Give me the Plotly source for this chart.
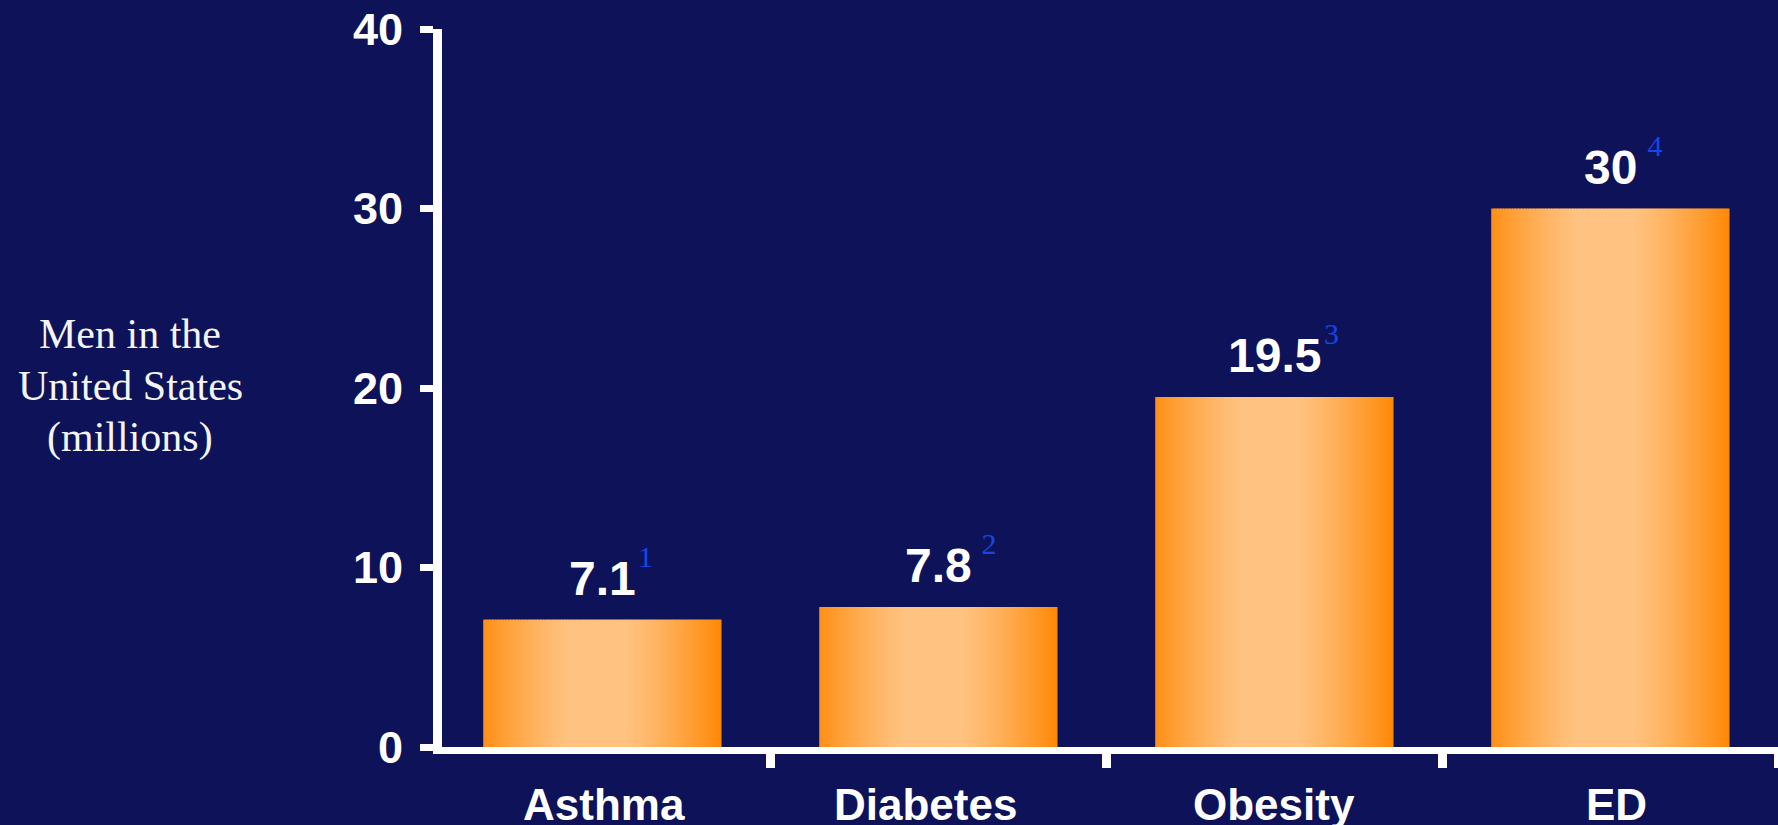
import plotly.graph_objects as go

# ---- data ----
categories = ["Asthma", "Diabetes", "Obesity", "ED"]
values = [7.1, 7.8, 19.5, 30]
value_labels = ["7.1", "7.8", "19.5", "30"]
notes = ["1", "\u00a02", "3", "\u00a04"]
y_ticks = [0, 10, 20, 30, 40]
y_title_lines = ["Men in the", "United States", "(millions)"]

# ---- style ----
BG = "#0E1258"
WHITE = "#FFFFFF"
BLUE = "#1646E4"
SANS = "Liberation Sans, Arial, sans-serif"
SERIF = "Liberation Serif, Times New Roman, serif"
BAR_W = 0.707
N_STRIPS = 79
LIGHT = (255, 194, 128)
ORANGE = (255, 137, 8)
LABEL_DX = [2, -13, 0, 6]          # small horizontal nudges of category labels (px)
ML = 442                           # left margin (px)
X0 = -0.5 + (ML - 434) / 336       # axis start so the y line sits on the first boundary


def strip_color(t):
    d = abs(t - 0.48) / 0.52
    w = min(max((d - 0.22) / 0.78, 0.0), 1.0) ** 1.25
    c = [round(LIGHT[k] * (1 - w) + ORANGE[k] * w) for k in range(3)]
    return f"rgb({c[0]},{c[1]},{c[2]})"


xpos = list(range(len(categories)))
fig = go.Figure()
step = BAR_W / N_STRIPS
for s in range(N_STRIPS):
    t = (s + 0.5) / N_STRIPS
    fig.add_trace(go.Bar(
        x=xpos, y=values,
        width=step * 1.25,
        offset=-BAR_W / 2 + s * step,
        marker=dict(color=strip_color(t), line=dict(width=0)),
        hoverinfo="skip", showlegend=False,
    ))

CW = {".": 0.278}   # Arial Bold advance widths (em); digits 0.556
LABEL_FS = 48
for i, (v, lab, note) in enumerate(zip(values, value_labels, notes)):
    fig.add_annotation(x=xpos[i], y=v, xref="x", yref="y", text=f"<b>{lab}</b>",
                       showarrow=False, xanchor="center", yanchor="bottom", yshift=13,
                       font=dict(family=SANS, size=LABEL_FS, color=WHITE))
    half = sum(CW.get(ch, 0.556) for ch in lab) * LABEL_FS / 2
    fig.add_annotation(x=xpos[i], y=v, xref="x", yref="y", text=note,
                       showarrow=False, xanchor="left", yanchor="bottom",
                       xshift=half + 1, yshift=45,
                       font=dict(family=SERIF, size=30, color=BLUE))
    fig.add_annotation(x=xpos[i], y=0, xref="x", yref="y", text=f"<b>{categories[i]}</b>",
                       showarrow=False, xanchor="center", yanchor="top",
                       xshift=LABEL_DX[i], yshift=-31,
                       font=dict(family=SANS, size=44, color=WHITE))

# y-axis title, three centred lines
LINE_GAP = 51.5
for k, line in enumerate(y_title_lines):
    fig.add_annotation(x=(130 - ML) / (1778 - ML), y=0.503, xref="paper", yref="paper",
                       text=line, showarrow=False, xanchor="center", yanchor="middle",
                       yshift=(1 - k) * LINE_GAP,
                       font=dict(family=SERIF, size=42, color="#F4F4F4"))

# short downward extension of the y-axis line below the x axis
fig.add_shape(type="line", xref="paper", yref="y", xsizemode="pixel", ysizemode="pixel",
              xanchor=0, yanchor=0, x0=-4.5, x1=-4.5, y0=0, y1=-21,
              line=dict(color=WHITE, width=9))

fig.update_layout(
    width=1778, height=825,
    paper_bgcolor=BG, plot_bgcolor=BG,
    margin=dict(l=ML, r=0, t=29, b=78),
    barmode="overlay",
    xaxis=dict(range=[X0, 3.5], showgrid=False, zeroline=False,
               showline=True, linecolor=WHITE, linewidth=7,
               tickmode="array", tickvals=[0.5, 1.5, 2.5, 3.5],
               ticktext=["", "", "", ""],
               ticks="outside", ticklen=14, tickwidth=9, tickcolor=WHITE),
    yaxis=dict(range=[0, 40], showgrid=False, zeroline=False,
               showline=True, linecolor=WHITE, linewidth=9,
               tickmode="array", tickvals=y_ticks,
               ticktext=[f"<b>{v}</b>" for v in y_ticks],
               ticks="outside", ticklen=13, tickwidth=7, tickcolor=WHITE,
               ticklabelstandoff=8,
               tickfont=dict(family=SANS, size=45, color=WHITE)),
)

fig.write_html("out.html")
